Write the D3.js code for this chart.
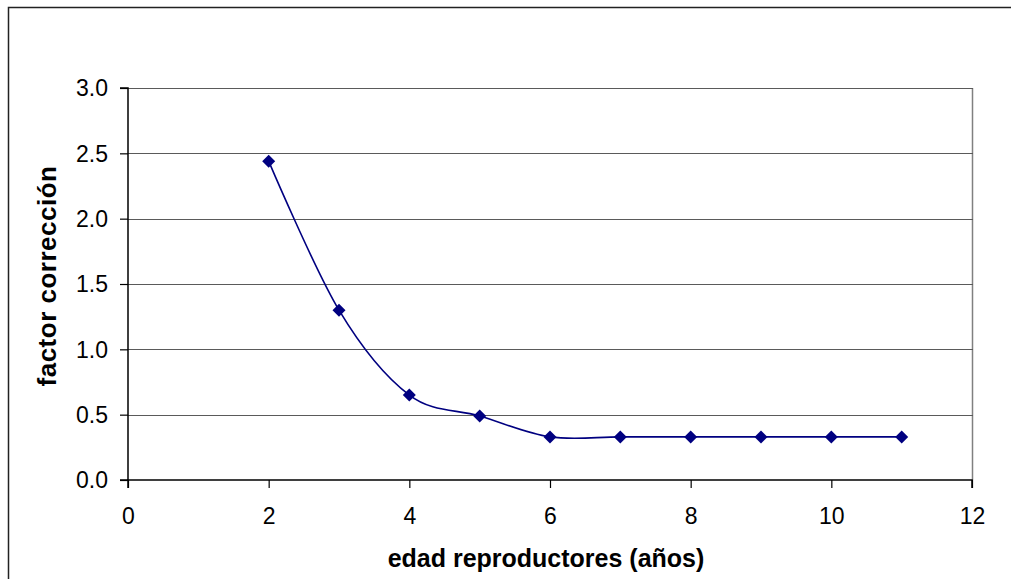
<!DOCTYPE html>
<html><head><meta charset="utf-8">
<script src="https://cdn.jsdelivr.net/npm/d3@7/dist/d3.min.js"></script>
<style>body{margin:0;background:#fff}svg{display:block}</style>
</head><body>
<svg id="c" width="1011" height="579"></svg>
<script>
const ages = [2, 3, 4, 5, 6, 7, 8, 9, 10, 11];
const factor = [2.44, 1.30, 0.65, 0.49, 0.33, 0.33, 0.33, 0.33, 0.33, 0.33];
const xTicks = [0, 2, 4, 6, 8, 10, 12];
const yTicks = [0, 0.5, 1.0, 1.5, 2.0, 2.5, 3.0];
const xTitle = "edad reproductores (años)";
const yTitle = "factor corrección";

const svg = d3.select("#c");
const L = 128, R = 972, T = 88, B = 480;
const x = d3.scaleLinear().domain([0, 12]).range([L, R]);
const y = d3.scaleLinear().domain([0, 3]).range([B, T]);
const font = "Liberation Sans, Arial, sans-serif";

// outer border
svg.append("rect").attr("x", 8.5).attr("y", 7.5).attr("width", 1020).attr("height", 600)
  .attr("fill", "none").attr("stroke", "#222").attr("stroke-width", 1.5);

// plot area right border
svg.append("line").attr("x1", R + 0.5).attr("x2", R + 0.5).attr("y1", T).attr("y2", B)
  .attr("stroke", "#808080").attr("stroke-width", 1.5);

// gridlines
svg.append("g").selectAll("line").data(yTicks.filter(d => d > 0)).join("line")
  .attr("x1", L).attr("x2", R + 1)
  .attr("y1", d => Math.round(y(d)) + 0.5).attr("y2", d => Math.round(y(d)) + 0.5)
  .attr("stroke", "#5a5a5a").attr("stroke-width", 1.2);

// axes
const yAxis = svg.append("g").attr("transform", `translate(${L},0)`)
  .call(d3.axisLeft(y).tickValues(yTicks).tickFormat(d3.format(".1f")).tickSize(8).tickPadding(12));
const xAxis = svg.append("g").attr("transform", `translate(0,${B})`)
  .call(d3.axisBottom(x).tickValues(xTicks).tickFormat(d3.format("d")).tickSize(8).tickPadding(20));
[yAxis, xAxis].forEach(g => {
  g.select(".domain").attr("stroke", "#000").attr("stroke-width", 1.5);
  g.selectAll(".tick line").attr("stroke", "#000").attr("stroke-width", 1.2);
  g.selectAll("text").attr("font-family", font).attr("font-size", 23).attr("fill", "#000");
});
yAxis.selectAll("text").attr("dy", "0.34em");
yAxis.select(".domain").attr("d", `M-8,${B}H0V${T}H-8`);
xAxis.select(".domain").attr("d", `M${L},8V0H${R}V8`);

// line
const pts = ages.map((a, i) => [a, factor[i]]);
svg.append("path").datum(pts)
  .attr("d", d3.line().x(d => x(d[0])).y(d => y(d[1])).curve(d3.curveCatmullRom.alpha(0)))
  .attr("fill", "none").attr("stroke", "#000080").attr("stroke-width", 1.6);

// markers
svg.append("g").selectAll("path").data(pts).join("path")
  .attr("transform", d => `translate(${x(d[0])},${y(d[1])})`)
  .attr("d", "M0,-6.5L6.5,0L0,6.5L-6.5,0Z")
  .attr("fill", "#000080");

// titles
svg.append("text").attr("x", 546).attr("y", 567).attr("text-anchor", "middle")
  .attr("font-family", font).attr("font-weight", "bold").attr("font-size", 25).text(xTitle);
svg.append("text").attr("transform", "translate(56,276) rotate(-90)").attr("text-anchor", "middle")
  .attr("font-family", font).attr("font-weight", "bold").attr("font-size", 26).attr("letter-spacing", 0.5).text(yTitle);
</script>
</body></html>
